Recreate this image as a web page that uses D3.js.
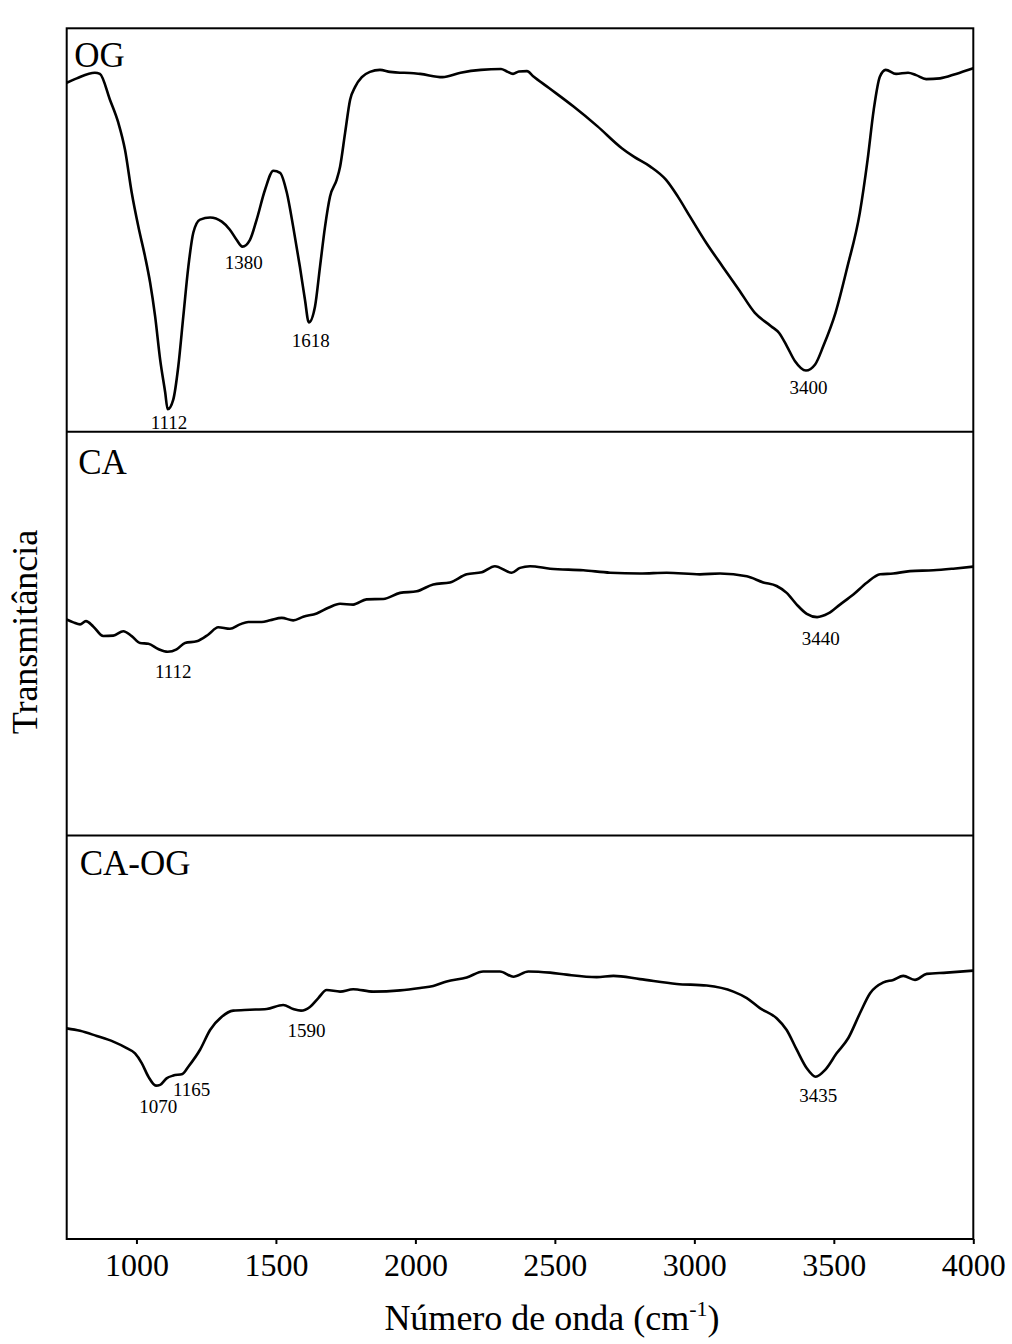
<!DOCTYPE html>
<html>
<head>
<meta charset="utf-8">
<script src="https://cdn.jsdelivr.net/npm/d3@7"></script>
<style>
  html, body { margin: 0; padding: 0; background: #ffffff; }
  svg { display: block; }
  text { font-family: "Liberation Serif", "Times New Roman", serif; fill: #000; }
</style>
</head>
<body>
<svg id="chart" width="1012" height="1344"></svg>
<script>
// ---------- DATA ----------
const panelNames = ["OG", "CA", "CA-OG"];
const xTicks = [1000, 1500, 2000, 2500, 3000, 3500, 4000];

// OG spectrum: wavenumber (cm-1) and transmittance (arbitrary units, 0-100 per panel)
const ogWavenumber = [750, 786, 851, 869, 905, 935, 959, 983, 1007, 1031, 1049, 1067, 1085, 1103, 1112, 1132, 1150, 1168, 1186, 1204, 1228, 1264, 1306, 1335, 1359, 1380, 1407, 1431, 1461, 1491, 1515, 1539, 1562, 1586, 1604, 1618, 1640, 1658, 1676, 1694, 1718, 1730, 1748, 1766, 1784, 1808, 1837, 1873, 1909, 1945, 1959, 2017, 2097, 2162, 2235, 2307, 2328, 2350, 2371, 2400, 2421, 2479, 2567, 2653, 2740, 2783, 2841, 2898, 2941, 2984, 3043, 3101, 3159, 3217, 3275, 3304, 3332, 3361, 3400, 3433, 3462, 3506, 3549, 3593, 3621, 3643, 3665, 3686, 3723, 3766, 3795, 3831, 3881, 3938, 4000];
const ogTransmittance = [86.5, 87.6, 89.0, 88.7, 82.3, 76.6, 69.9, 59.3, 50.8, 43.4, 37.0, 28.6, 17.9, 9.8, 5.6, 8.0, 16.2, 28.6, 40.9, 49.4, 52.6, 53.1, 52.1, 50.1, 47.6, 45.9, 47.6, 52.6, 60.0, 64.7, 64.2, 59.3, 50.8, 40.9, 32.8, 27.1, 31.0, 40.9, 50.8, 58.3, 62.5, 65.7, 74.1, 82.3, 85.5, 87.9, 89.2, 89.7, 89.2, 89.0, 89.0, 88.7, 87.9, 89.0, 89.7, 89.9, 89.3, 88.7, 89.3, 89.4, 88.2, 85.2, 80.6, 75.7, 70.3, 68.2, 65.8, 62.5, 58.3, 53.4, 46.8, 41.0, 35.3, 29.5, 26.2, 24.5, 21.2, 17.5, 15.2, 16.7, 21.2, 29.5, 41.0, 54.2, 67.4, 79.8, 88.0, 89.7, 88.7, 89.0, 88.4, 87.4, 87.6, 88.7, 90.1];

// CA spectrum
const caWavenumber = [750, 774, 798, 819, 845, 881, 917, 953, 983, 1013, 1043, 1078, 1112, 1144, 1174, 1216, 1258, 1293, 1335, 1371, 1401, 1449, 1479, 1521, 1562, 1598, 1646, 1688, 1730, 1777, 1825, 1885, 1945, 2005, 2064, 2124, 2184, 2238, 2285, 2345, 2375, 2411, 2483, 2602, 2698, 2805, 2901, 3020, 3092, 3188, 3247, 3295, 3331, 3367, 3403, 3440, 3480, 3522, 3570, 3618, 3666, 3713, 3773, 3857, 3928, 4000];
const caTransmittance = [53.5, 52.8, 52.3, 53.1, 51.8, 49.4, 49.5, 50.6, 49.4, 47.7, 47.5, 46.2, 45.5, 46.1, 47.7, 48.1, 49.8, 51.6, 51.2, 52.3, 52.9, 52.9, 53.3, 53.9, 53.3, 54.2, 55.0, 56.4, 57.4, 57.2, 58.5, 58.6, 60.1, 60.5, 62.2, 62.7, 64.7, 65.2, 66.7, 65.1, 66.3, 66.7, 66.1, 65.7, 65.1, 64.9, 65.1, 64.7, 64.9, 64.2, 62.7, 61.8, 60.1, 57.2, 54.9, 54.1, 55.0, 57.2, 59.7, 62.6, 64.7, 64.9, 65.5, 65.7, 66.1, 66.6];

// CA-OG spectrum
const caogWavenumber = [750, 798, 858, 917, 965, 995, 1019, 1043, 1070, 1085, 1108, 1132, 1165, 1186, 1228, 1264, 1306, 1347, 1407, 1467, 1526, 1562, 1590, 1622, 1652, 1682, 1730, 1777, 1849, 1945, 2017, 2064, 2112, 2184, 2243, 2303, 2351, 2405, 2483, 2542, 2650, 2710, 2805, 2937, 3044, 3140, 3188, 3235, 3295, 3331, 3367, 3403, 3435, 3469, 3510, 3552, 3594, 3630, 3678, 3713, 3749, 3791, 3833, 3905, 4000];
const caogTransmittance = [52.2, 51.6, 50.3, 48.9, 47.3, 46.0, 43.6, 40.2, 38.0, 38.2, 39.8, 40.5, 40.9, 42.7, 46.9, 51.8, 55.1, 56.6, 56.8, 57.0, 58.0, 57.0, 56.6, 57.5, 59.7, 61.7, 61.3, 61.9, 61.3, 61.6, 62.2, 62.7, 63.8, 64.8, 66.3, 66.3, 65.0, 66.3, 66.0, 65.5, 64.9, 65.2, 64.4, 63.2, 62.8, 61.3, 59.7, 57.2, 54.7, 51.8, 46.9, 42.3, 40.2, 41.9, 46.0, 49.8, 56.0, 60.9, 63.6, 64.2, 65.2, 64.2, 65.7, 66.0, 66.5];

// Peak annotations: label text, label anchor wavenumber and transmittance (data units)
const ogPeakLabels = ["1112", "1380", "1618", "3400"];
const ogPeakWn = [1117, 1385, 1625, 3409];
const ogPeakT = [0.6, 40.4, 21.1, 9.3];
const caPeakLabels = ["1112", "3440"];
const caPeakWn = [1132, 3453];
const caPeakT = [39.0, 47.3];
const caogPeakLabels = ["1070", "1165", "1590", "3435"];
const caogPeakWn = [1078, 1198, 1610, 3444];
const caogPeakT = [31.3, 35.5, 50.0, 34.0];

(function () {
// ---------- LAYOUT ----------
const svg = d3.select("#chart");
const plotLeft = 66.7, plotRight = 973.3, plotTop = 28.3, plotBottom = 1239;
const panelH = (plotBottom - plotTop) / 3;

const x = d3.scaleLinear().domain([750, 4000]).range([plotLeft, plotRight]);

const panels = [
  { name: panelNames[0], wn: ogWavenumber, t: ogTransmittance, labels: ogPeakLabels, lw: ogPeakWn, lt: ogPeakT, nameDy: 38.5, nameDx: 7.5 },
  { name: panelNames[1], wn: caWavenumber, t: caTransmittance, labels: caPeakLabels, lw: caPeakWn, lt: caPeakT, nameDy: 42.5, nameDx: 11.5 },
  { name: panelNames[2], wn: caogWavenumber, t: caogTransmittance, labels: caogPeakLabels, lw: caogPeakWn, lt: caogPeakT, nameDy: 39.5, nameDx: 13 }
];

panels.forEach((p, i) => {
  const y0 = plotTop + i * panelH;
  const y = d3.scaleLinear().domain([0, 100]).range([y0 + panelH, y0]);
  const data = p.wn.map((w, k) => [w, p.t[k]]);
  const line = d3.line().x(d => x(d[0])).y(d => y(d[1])).curve(d3.curveMonotoneX);

  svg.append("path")
    .datum(data)
    .attr("d", line)
    .attr("fill", "none")
    .attr("stroke", "#000")
    .attr("stroke-width", 2.6)
    .attr("stroke-linejoin", "round");

  svg.append("text")
    .attr("x", plotLeft + p.nameDx)
    .attr("y", y0 + p.nameDy)
    .attr("font-size", 35)
    .text(p.name);

  p.labels.forEach((lab, k) => {
    svg.append("text")
      .attr("x", x(p.lw[k]))
      .attr("y", y(p.lt[k]))
      .attr("text-anchor", "middle")
      .attr("font-size", 19)
      .text(lab);
  });

  if (i > 0) {
    svg.append("line")
      .attr("x1", plotLeft).attr("x2", plotRight)
      .attr("y1", y0).attr("y2", y0)
      .attr("stroke", "#000").attr("stroke-width", 2);
  }
});

// Frame
svg.append("rect")
  .attr("x", plotLeft).attr("y", plotTop)
  .attr("width", plotRight - plotLeft).attr("height", plotBottom - plotTop)
  .attr("fill", "none").attr("stroke", "#000").attr("stroke-width", 2);

// Bottom axis
const axis = d3.axisBottom(x).tickValues(xTicks).tickSize(5).tickPadding(8).tickFormat(d3.format("d"));
const gAxis = svg.append("g").attr("transform", `translate(0,${plotBottom})`).call(axis);
gAxis.select(".domain").remove();
gAxis.selectAll(".tick line").attr("stroke", "#000").attr("stroke-width", 2);
gAxis.selectAll(".tick text")
  .attr("font-family", "Liberation Serif, Times New Roman, serif")
  .attr("font-size", 32)
  .attr("fill", "#000")
  .attr("dy", null)
  .attr("y", 37);

// X axis title
const xt = svg.append("text")
  .attr("x", (plotLeft + plotRight) / 2 + 32)
  .attr("y", 1330)
  .attr("text-anchor", "middle")
  .attr("font-size", 36);
xt.append("tspan").text("Número de onda (cm");
xt.append("tspan").attr("font-size", 22).attr("dy", -14).text("-1");
xt.append("tspan").attr("dy", 14).text(")");

// Y axis title
svg.append("text")
  .attr("transform", `translate(37,632) rotate(-90)`)
  .attr("text-anchor", "middle")
  .attr("font-size", 36)
  .text("Transmitância");
})();
</script>
</body>
</html>
